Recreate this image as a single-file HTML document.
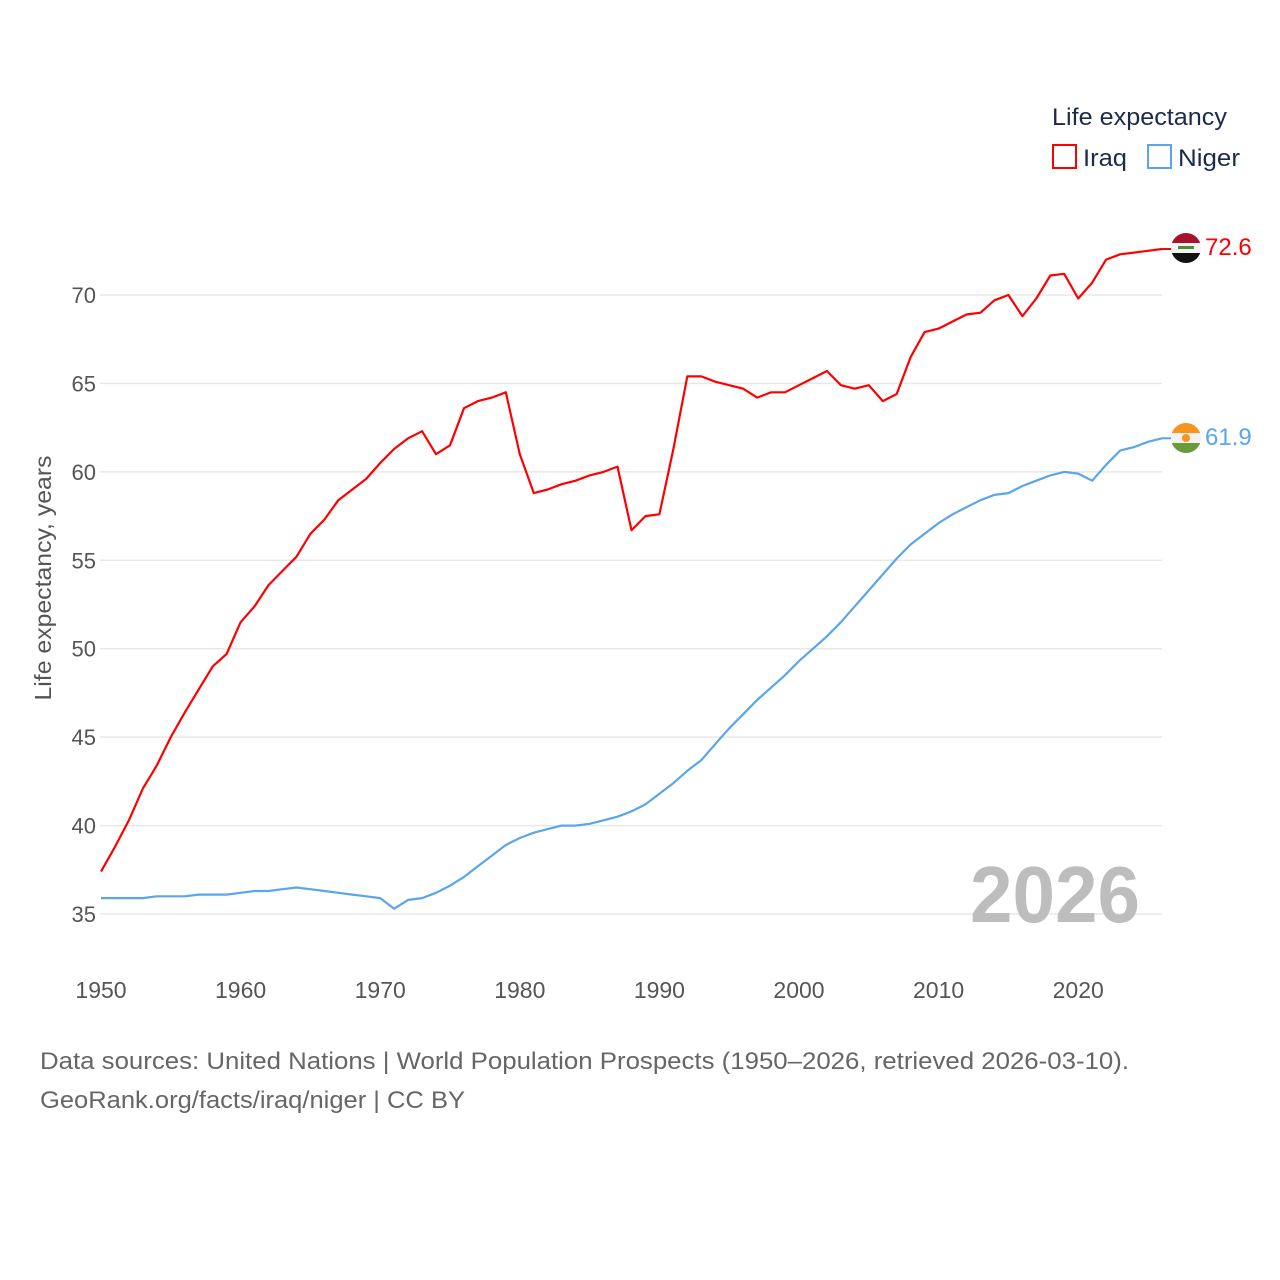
<!DOCTYPE html>
<html><head><meta charset="utf-8"><style>
html,body{margin:0;padding:0;background:#fff;}
svg{display:block;font-family:"Liberation Sans",sans-serif;}
</style></head><body>
<svg width="1280" height="1280" viewBox="0 0 1280 1280">
<g id="grid"></g>
<g id="yticks"></g>
<g id="xticks"></g>
<text transform="translate(51,578) rotate(-90)" text-anchor="middle" font-size="23" fill="#555" textLength="245" lengthAdjust="spacingAndGlyphs">Life expectancy, years</text>
<text x="970" y="922" font-size="80" font-weight="bold" fill="#bdbdbd" textLength="170" lengthAdjust="spacingAndGlyphs">2026</text>
<g id="series"></g>
<g>
<text x="1052" y="125" font-size="24" fill="#1c2b4a" textLength="175" lengthAdjust="spacingAndGlyphs">Life expectancy</text>
<g>
<rect x="1053" y="145" width="23" height="23" fill="none" stroke="#ff0000" stroke-width="2"/>
<text x="1083" y="166" font-size="24" fill="#1c2b4a" textLength="44" lengthAdjust="spacingAndGlyphs">Iraq</text></g>
<g>
<rect x="1148" y="145" width="23" height="23" fill="none" stroke="#5aa5ec" stroke-width="2"/>
<text x="1178" y="166" font-size="24" fill="#1c2b4a" textLength="62" lengthAdjust="spacingAndGlyphs">Niger</text></g>
</g>
<defs>
<clipPath id="c1"><circle cx="1186" cy="248" r="15"/></clipPath>
<clipPath id="c2"><circle cx="1186" cy="438" r="15"/></clipPath>
</defs>
<g id="flags"></g>
<text x="40" y="1069" font-size="24" fill="#666" textLength="1089" lengthAdjust="spacingAndGlyphs">Data sources: United Nations | World Population Prospects (1950–2026, retrieved 2026-03-10).</text>
<text x="40" y="1108" font-size="24" fill="#666" textLength="425" lengthAdjust="spacingAndGlyphs">GeoRank.org/facts/iraq/niger | CC BY</text>
</svg>
<script>
const years = [];
for (let y = 1950; y <= 2026; y++) years.push(y);
const iraq = [37.4,38.8,40.3,42.1,43.4,45.0,46.4,47.7,49.0,49.7,51.5,52.4,53.6,54.4,55.2,56.5,57.3,58.4,59.0,59.6,60.5,61.3,61.9,62.3,61.0,61.5,63.6,64.0,64.2,64.5,61.0,58.8,59.0,59.3,59.5,59.8,60.0,60.3,56.7,57.5,57.6,61.3,65.4,65.4,65.1,64.9,64.7,64.2,64.5,64.5,64.9,65.3,65.7,64.9,64.7,64.9,64.0,64.4,66.5,67.9,68.1,68.5,68.9,69.0,69.7,70.0,68.8,69.8,71.1,71.2,69.8,70.7,72.0,72.3,72.4,72.5,72.6];
const niger = [35.9,35.9,35.9,35.9,36.0,36.0,36.0,36.1,36.1,36.1,36.2,36.3,36.3,36.4,36.5,36.4,36.3,36.2,36.1,36.0,35.9,35.3,35.8,35.9,36.2,36.6,37.1,37.7,38.3,38.9,39.3,39.6,39.8,40.0,40.0,40.1,40.3,40.5,40.8,41.2,41.8,42.4,43.1,43.7,44.6,45.5,46.3,47.1,47.8,48.5,49.3,50.0,50.7,51.5,52.4,53.3,54.2,55.1,55.9,56.5,57.1,57.6,58.0,58.4,58.7,58.8,59.2,59.5,59.8,60.0,59.9,59.5,60.4,61.2,61.4,61.7,61.9];
const yTicks = [35,40,45,50,55,60,65,70];
const xTicks = [1950,1960,1970,1980,1990,2000,2010,2020];
const endLabels = ["72.6","61.9"];

const NS = "http://www.w3.org/2000/svg";
const X = v => 101 + (v - 1950) * 13.96;
const Y = v => 295 + (70 - v) * 17.686;
function mk(tag, attrs, parent) {
  const e = document.createElementNS(NS, tag);
  for (const k in attrs) e.setAttribute(k, attrs[k]);
  parent.appendChild(e); return e;
}
const grid = document.getElementById('grid'), yt = document.getElementById('yticks'), xt = document.getElementById('xticks');
yTicks.forEach(t => {
  const l = mk('line', {x1: 100, x2: 1162, y1: Y(t), y2: Y(t), stroke: '#e8e8e8', 'stroke-width': 1.5}, grid);
  
  
  const tx = mk('text', {x: 96, y: Y(t) + 8, 'text-anchor': 'end', 'font-size': 22, fill: '#555'}, yt);
  tx.textContent = t;
  
  
});
xTicks.forEach(t => {
  const tx = mk('text', {x: X(t), y: 998, 'text-anchor': 'middle', 'font-size': 23, fill: '#555'}, xt);
  tx.textContent = t;
  
  
});
const ser = document.getElementById('series');
function line(vals, color, name) {
  const d = vals.map((v, i) => (i ? 'L' : 'M') + X(years[i]).toFixed(1) + ' ' + Y(v).toFixed(1)).join(' ');
  const p = mk('path', {d: d, fill: 'none', stroke: color, 'stroke-width': 2.2, 'stroke-linejoin': 'round'}, ser);
  
  
}
line(niger, '#5aa5ec', 'niger-line');
line(iraq, '#ff0000', 'iraq-line');

const fl = document.getElementById('flags');
const iy = Y(iraq[iraq.length - 1]), ny = Y(niger[niger.length - 1]);
mk('line', {x1: X(2026), x2: 1172, y1: iy, y2: iy, stroke: '#ff0000', 'stroke-width': 2}, fl);
mk('line', {x1: X(2026), x2: 1172, y1: ny, y2: ny, stroke: '#5aa5ec', 'stroke-width': 2}, fl);
function flag(cy, cols, clip, name) {
  const g = mk('g', {'clip-path': 'url(#' + clip + ')'}, fl);
  
  
  cols.forEach((c, i) => mk('rect', {x: 1171, y: cy - 15 + i * 10, width: 30, height: 10, fill: c}, g));
  return g;
}
const gi = flag(248, ['#a5122a', '#f2f2f2', '#111'], 'c1', 'iraq-flag');
mk('rect', {x: 1178, y: 246, width: 16, height: 3, fill: '#4a8a3a'}, gi);
const gn = flag(438, ['#f7931e', '#f2f2f2', '#6a9a3a'], 'c2', 'niger-flag');
mk('circle', {cx: 1186, cy: 438, r: 4, fill: '#f7931e'}, gn);
const l1 = mk('text', {x: 1205, y: 255, 'font-size': 24, fill: '#ff0000'}, fl);
l1.textContent = endLabels[0];


const l2 = mk('text', {x: 1205, y: 445, 'font-size': 24, fill: '#5aa5ec'}, fl);
l2.textContent = endLabels[1];


</script>
</body></html>
